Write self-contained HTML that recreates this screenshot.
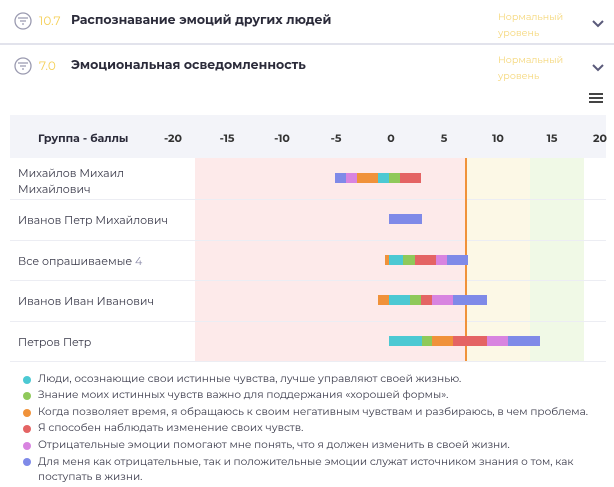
<!DOCTYPE html><html><head><meta charset="utf-8"><style>
body{margin:0;width:614px;height:487px;background:#fff;font-family:"Montserrat","Liberation Sans",sans-serif;overflow:hidden;position:relative;color:#2b2b3a}
.a{position:absolute}
.t{font-size:11px;color:#3a3a4a}
.lg{font-size:10.5px;color:#3a3a4a;left:38px;white-space:nowrap}
.d{width:8px;height:8px;border-radius:50%;left:23px}
.tk{font-size:11px;font-weight:bold;top:131px;color:#333;width:30px;text-align:center}
.sep{left:10px;width:596px;height:1px;background:#ecedf3}
</style></head><body>
<div class="a" style="left:0;top:43px;width:614px;height:2px;background:#e2e3ec"></div>
<svg class="a" style="left:0;top:0" width="614" height="110">
<g fill="none" stroke="#9a9ab0" stroke-width="1.3">
<circle cx="23" cy="21" r="8"/><path d="M18 18h10M20 21h6M22 24h2"/>
<circle cx="23" cy="66" r="8"/><path d="M18 63h10M20 66h6M22 69h2"/>
</g>
<g fill="none" stroke="#5a5a7a" stroke-width="2">
<path d="M593 21l5 5 5-5"/><path d="M593 65l5 5 5-5"/>
</g>
<g fill="#444"><rect x="589" y="93" width="14" height="2"/><rect x="589" y="97" width="14" height="2"/><rect x="589" y="101" width="14" height="2"/></g>
</svg>
<div class="a" style="left:39px;top:14px;font-size:12px;color:#f5cf55">10.7</div>
<div class="a" style="left:71px;top:13px;font-size:12.5px;font-weight:bold">Распознавание эмоций других людей</div>
<div class="a" style="left:39px;top:59px;font-size:12px;color:#f5cf55">7.0</div>
<div class="a" style="left:71px;top:58px;font-size:12.5px;font-weight:bold">Эмоциональная осведомленность</div>
<div class="a" style="left:498px;top:10px;font-size:9.5px;color:#f5d77a;line-height:16px">Нормальный<br>уровень</div>
<div class="a" style="left:498px;top:53px;font-size:9.5px;color:#f5d77a;line-height:16px">Нормальный<br>уровень</div>
<div class="a" style="left:10px;top:115px;width:596px;height:43px;background:#f3f4f9"></div>
<div class="a" style="left:38px;top:131px;font-size:11px;font-weight:bold">Группа - баллы</div>
<div class="a tk" style="left:158px">-20</div><div class="a tk" style="left:212px">-15</div><div class="a tk" style="left:267px">-10</div><div class="a tk" style="left:321px">-5</div><div class="a tk" style="left:376px">0</div><div class="a tk" style="left:429px">5</div><div class="a tk" style="left:483px">10</div><div class="a tk" style="left:537px">15</div><div class="a tk" style="left:585px">20</div>
<div class="a" style="left:195px;top:158px;width:271px;height:203px;background:#fdeaea"></div>
<div class="a" style="left:466px;top:158px;width:64px;height:203px;background:#fcf8e6"></div>
<div class="a" style="left:530px;top:158px;width:54px;height:203px;background:#f0f9e6"></div>
<div class="a sep" style="top:199px"></div><div class="a sep" style="top:240px"></div><div class="a sep" style="top:280px"></div><div class="a sep" style="top:321px"></div><div class="a sep" style="top:361px"></div>
<div class="a" style="left:465px;top:158px;width:2px;height:203px;background:#f0923a"></div>
<div class="a t" style="left:18px;top:165px;line-height:16px">Михайлов Михаил<br>Михайлович</div>
<div class="a t" style="left:18px;top:213px">Иванов Петр Михайлович</div>
<div class="a t" style="left:18px;top:254px">Все опрашиваемые <span style="color:#8a8aa8">4</span></div>
<div class="a t" style="left:18px;top:294px">Иванов Иван Иванович</div>
<div class="a t" style="left:18px;top:335px">Петров Петр</div>
<svg class="a" style="left:0;top:0" width="614" height="487">
<g>
<rect x="335" y="173" width="11" height="10" fill="#7f8ae8"/><rect x="346" y="173" width="11" height="10" fill="#d884e0"/><rect x="357" y="173" width="21" height="10" fill="#f0923a"/><rect x="378" y="173" width="11" height="10" fill="#4cc9d3"/><rect x="389" y="173" width="11" height="10" fill="#8fc95a"/><rect x="400" y="173" width="21" height="10" fill="#e46464"/>
<rect x="389" y="214" width="33" height="10" fill="#7f8ae8"/>
<rect x="385" y="255" width="4" height="10" fill="#f0923a"/><rect x="389" y="255" width="14" height="10" fill="#4cc9d3"/><rect x="403" y="255" width="12" height="10" fill="#8fc95a"/><rect x="415" y="255" width="21" height="10" fill="#e46464"/><rect x="436" y="255" width="11" height="10" fill="#d884e0"/><rect x="447" y="255" width="21" height="10" fill="#7f8ae8"/>
<rect x="378" y="295" width="11" height="10" fill="#f0923a"/><rect x="389" y="295" width="21" height="10" fill="#4cc9d3"/><rect x="410" y="295" width="11" height="10" fill="#8fc95a"/><rect x="421" y="295" width="11" height="10" fill="#e46464"/><rect x="432" y="295" width="21" height="10" fill="#d884e0"/><rect x="453" y="295" width="34" height="10" fill="#7f8ae8"/>
<rect x="389" y="336" width="33" height="10" fill="#4cc9d3"/><rect x="422" y="336" width="10" height="10" fill="#8fc95a"/><rect x="432" y="336" width="21" height="10" fill="#f0923a"/><rect x="453" y="336" width="34" height="10" fill="#e46464"/><rect x="487" y="336" width="21" height="10" fill="#d884e0"/><rect x="508" y="336" width="32" height="10" fill="#7f8ae8"/>
</g></svg>
<div class="a d" style="top:376px;background:#4cc9d3"></div><div class="a lg" style="top:372px">Люди, осознающие свои истинные чувства, лучше управляют своей жизнью.</div>
<div class="a d" style="top:392px;background:#8fc95a"></div><div class="a lg" style="top:388px">Знание моих истинных чувств важно для поддержания «хорошей формы».</div>
<div class="a d" style="top:409px;background:#f0923a"></div><div class="a lg" style="top:405px">Когда позволяет время, я обращаюсь к своим негативным чувствам и разбираюсь, в чем проблема.</div>
<div class="a d" style="top:425px;background:#e46464"></div><div class="a lg" style="top:421px">Я способен наблюдать изменение своих чувств.</div>
<div class="a d" style="top:442px;background:#d884e0"></div><div class="a lg" style="top:438px">Отрицательные эмоции помогают мне понять, что я должен изменить в своей жизни.</div>
<div class="a d" style="top:458px;background:#7f8ae8"></div><div class="a lg" style="top:454px;line-height:15px">Для меня как отрицательные, так и положительные эмоции служат источником знания о том, как<br>поступать в жизни.</div>
</body></html>
